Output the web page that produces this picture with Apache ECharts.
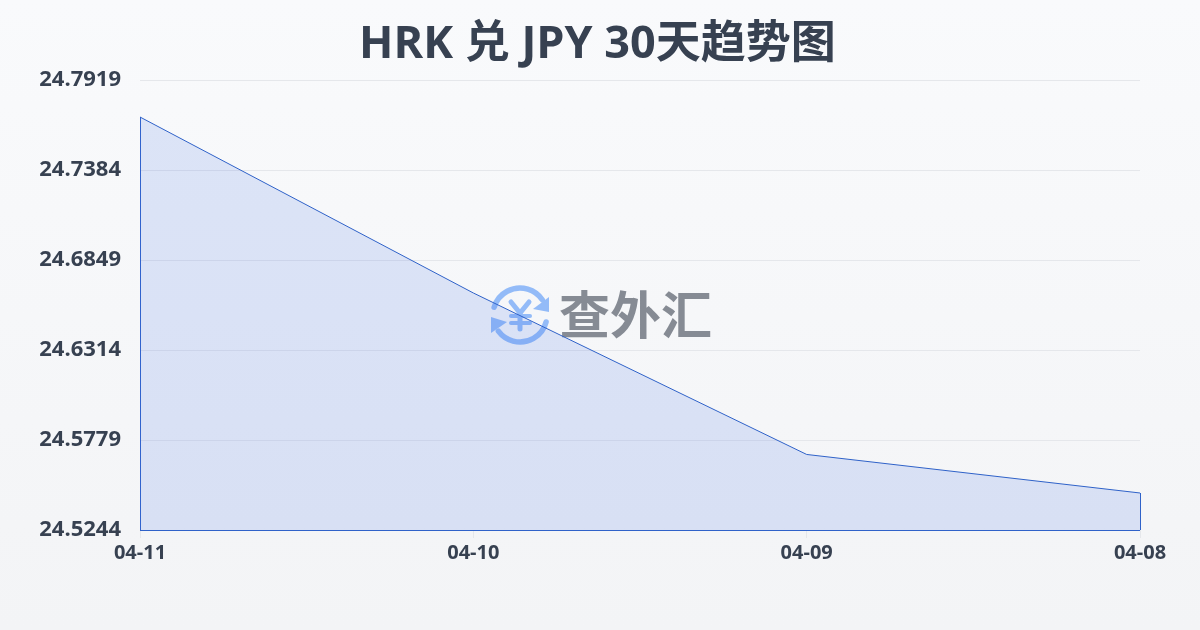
<!DOCTYPE html>
<html><head><meta charset="utf-8">
<style>html,body{margin:0;padding:0;width:1200px;height:630px;overflow:hidden}#c{width:1200px;height:630px}</style>
<script src="https://cdn.jsdelivr.net/npm/echarts@6/dist/echarts.min.js"></script>
</head><body><div id="c"></div>
<script>
const titleText = 'HRK 兑 JPY 30天趋势图';
const categories = ['04-11','04-10','04-09','04-08'];
const values = [24.7699,24.6653,24.5693,24.5464];
const yMin = 24.5244, yMax = 24.7919, yStep = 0.0535;
const watermarkText = '查外汇';
const lineColor = '#2f62c9';
const font = '"Open Sans","Noto Sans CJK SC",sans-serif';
const logo = '#93bbf8';
const chart = echarts.init(document.getElementById('c'), null, {renderer:'canvas'});
chart.setOption({
  animation:false,
  backgroundColor:{type:'linear',x:0,y:0,x2:0,y2:1,colorStops:[{offset:0,color:'#f9fafc'},{offset:1,color:'#f3f4f6'}]},
  title:{text:titleText,left:354,top:18,textStyle:{fontFamily:font,fontSize:45,fontWeight:'bold',color:'#374151'}},
  grid:{left:140,right:60,top:80,bottom:100,containLabel:false},
  xAxis:{type:'category',boundaryGap:false,data:categories,
    axisLine:{show:false},
    axisTick:{show:true,length:8,lineStyle:{color:'#e5e7eb'}},
    axisLabel:{fontFamily:font,fontSize:20,fontWeight:'bold',color:'#374151',margin:13,showMinLabel:true,showMaxLabel:true,interval:0}},
  yAxis:{type:'value',min:yMin,max:yMax,interval:yStep,
    axisLine:{show:false},axisTick:{show:false},
    splitLine:{lineStyle:{color:'#e5e7eb',width:1}},
    axisLabel:{fontFamily:font,fontSize:22,fontWeight:'bold',color:'#374151',margin:19,formatter:v=>v.toFixed(4)}},
  graphic:{elements:[
    {type:'group',z:-10,silent:true,children:[
      {type:'arc',shape:{cx:520,cy:315,r:27,startAngle:-2.85,endAngle:-0.6},style:{stroke:logo,fill:null,lineWidth:5.5,lineCap:'round'}},
      {type:'arc',shape:{cx:520,cy:315,r:27,startAngle:0.26,endAngle:2.5},style:{stroke:logo,fill:null,lineWidth:5.5,lineCap:'round'}},
      {type:'polygon',shape:{points:[[549,297],[549,312],[533,309]]},style:{fill:logo}},
      {type:'polygon',shape:{points:[[491,317],[491,333],[507,322]]},style:{fill:logo}},
      {type:'polyline',shape:{points:[[511,302],[520,313],[529,302]]},style:{stroke:logo,fill:null,lineWidth:5,lineCap:'round'}},
      {type:'line',shape:{x1:511,y1:316,x2:530,y2:316},style:{stroke:logo,lineWidth:4,lineCap:'round'}},
      {type:'line',shape:{x1:511,y1:323,x2:530,y2:323},style:{stroke:logo,lineWidth:4,lineCap:'round'}},
      {type:'line',shape:{x1:520,y1:313,x2:520,y2:329},style:{stroke:logo,lineWidth:5,lineCap:'round'}},
      {type:'text',style:{text:watermarkText,x:635.5,y:315,align:'center',verticalAlign:'middle',fontFamily:'"Noto Sans CJK SC",sans-serif',fontSize:51,fontWeight:'bold',fill:'#868b94'}}
    ]}
  ]},
  series:[{type:'line',data:values,symbol:'none',smooth:false,z:5,
    lineStyle:{color:lineColor,width:1},
    areaStyle:{origin:'start',color:'rgba(59,110,225,0.15)',opacity:1},
    markLine:{silent:true,symbol:'none',label:{show:false},animation:false,lineStyle:{color:lineColor,width:1,type:'solid'},
      data:[
        [{coord:[categories[0],yMin]},{coord:[categories[0],values[0]]}],
        [{coord:[categories[0],yMin]},{coord:[categories[3],yMin]}],
        [{coord:[categories[3],yMin]},{coord:[categories[3],values[3]]}]
      ]}
  }]
});
</script></body></html>
